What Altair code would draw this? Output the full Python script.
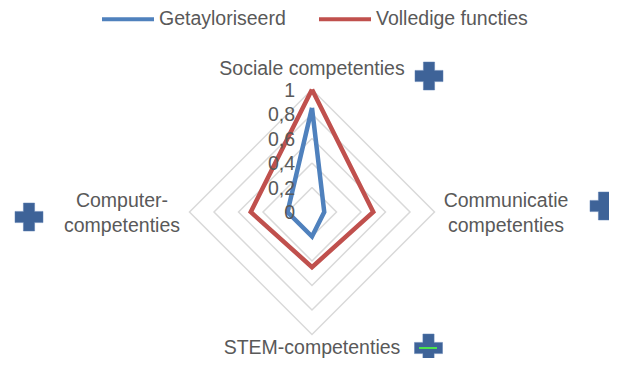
import altair as alt
import pandas as pd

# ---- data ----
categories = ["Sociale competenties", "Communicatie\ncompetenties",
              "STEM-competenties", "Computer-\ncompetenties"]
series_names = ["Getayloriseerd", "Volledige functies"]
getayloriseerd = [0.85, 0.10, 0.20, 0.20]
volledige_functies = [1.00, 0.50, 0.45, 0.50]
tick_values = [0, 0.2, 0.4, 0.6, 0.8, 1.0]
tick_labels = ["0", "0,2", "0,4", "0,6", "0,8", "1"]

FONT = "Liberation Sans"
TXT = "#595959"
W, H = 601, 350
R = 122.5          # pixels per unit radius
CX, CY = 304, 204  # radar centre inside the plot area
xdom = [-CX / R, (W - CX) / R]
ydom = [(CY - H) / R, CY / R]

n = len(categories)
angles = [i * 360 / n for i in range(n)]

rows = []
for name, vals in zip(series_names, [getayloriseerd, volledige_functies]):
    for i in range(n + 1):
        k = i % n
        rows.append({"series": name, "i": i, "v": vals[k], "angle": angles[k]})
series_df = pd.DataFrame(rows)

grid_rows = []
for lv in tick_values[1:]:
    for i in range(n + 1):
        k = i % n
        grid_rows.append({"level": lv, "i": i, "v": lv, "angle": angles[k]})
grid_df = pd.DataFrame(grid_rows)

tick_df = pd.DataFrame({"v": tick_values, "label": tick_labels, "angle": 0})

xs = alt.Scale(domain=xdom, nice=False, zero=False)
ys = alt.Scale(domain=ydom, nice=False, zero=False)
X = alt.X("x:Q", scale=xs, axis=None)
Y = alt.Y("y:Q", scale=ys, axis=None)

def polar(ch):
    return ch.transform_calculate(
        x="datum.v * sin(datum.angle * PI / 180)",
        y="datum.v * cos(datum.angle * PI / 180)",
    )

grid = polar(alt.Chart(grid_df)).mark_line(
    color="#D9D9D9", strokeWidth=1.5, strokeJoin="miter"
).encode(x=X, y=Y, detail="level:N", order="i:Q")

lines = polar(alt.Chart(series_df)).mark_line(
    strokeWidth=4.5, strokeJoin="miter"
).encode(
    x=X, y=Y, order="i:Q",
    color=alt.Color(
        "series:N",
        scale=alt.Scale(domain=series_names, range=["#4F81BD", "#C0504D"]),
        legend=alt.Legend(
            orient="none", legendX=92, legendY=-17, direction="horizontal",
            title=None, symbolType="stroke", symbolSize=2704,
            symbolStrokeWidth=4, labelFontSize=19.5, labelFont=FONT,
            labelColor=TXT, columnPadding=25, labelOffset=3, padding=0,
        ),
    ),
)

ticks = polar(alt.Chart(tick_df)).mark_text(
    align="right", baseline="middle", dx=-17, dy=1, fontSize=19.5,
    font=FONT, color=TXT,
).encode(x=X, y=Y, text="label:N")

label_offsets = [(0, -14.5), (71.5, -5), (0, 19.5), (-67.5, -5)]
label_layers = []
for k, (cat, (ddx, ddy)) in enumerate(zip(categories, label_offsets)):
    df = pd.DataFrame({"label": [cat], "v": [1.0], "angle": [angles[k]]})
    label_layers.append(
        polar(alt.Chart(df)).mark_text(
            align="center", baseline="alphabetic", dx=ddx, dy=ddy,
            fontSize=19.5, font=FONT, color=TXT, lineBreak="\n",
            lineHeight=25,
        ).encode(x=X, y=Y, text="label:N")
    )

# decorative plus markers
plus_px = [(421, 68), (596, 198), (21, 209), (420.5, 340)]
plus_layers = [
    alt.Chart(pd.DataFrame({"d": [0]})).mark_point(
        shape="cross", filled=True, size=784, color="#3E6398", opacity=1,
        stroke="#5B7DB0", strokeWidth=0.5,
    ).encode(x=alt.value(px), y=alt.value(py))
    for px, py in plus_px
]
green = alt.Chart(pd.DataFrame({"d": [0]})).mark_rule(
    color="#4CE34C", strokeWidth=2
).encode(x=alt.value(411), x2=alt.value(429), y=alt.value(340))

chart = alt.layer(grid, lines, ticks, *label_layers, *plus_layers, green).properties(
    width=W, height=H, autosize="none", padding=0, background="white"
).configure_view(stroke=None, strokeWidth=0)

chart.save("out.html", embed_options={"renderer": "svg", "actions": False})
